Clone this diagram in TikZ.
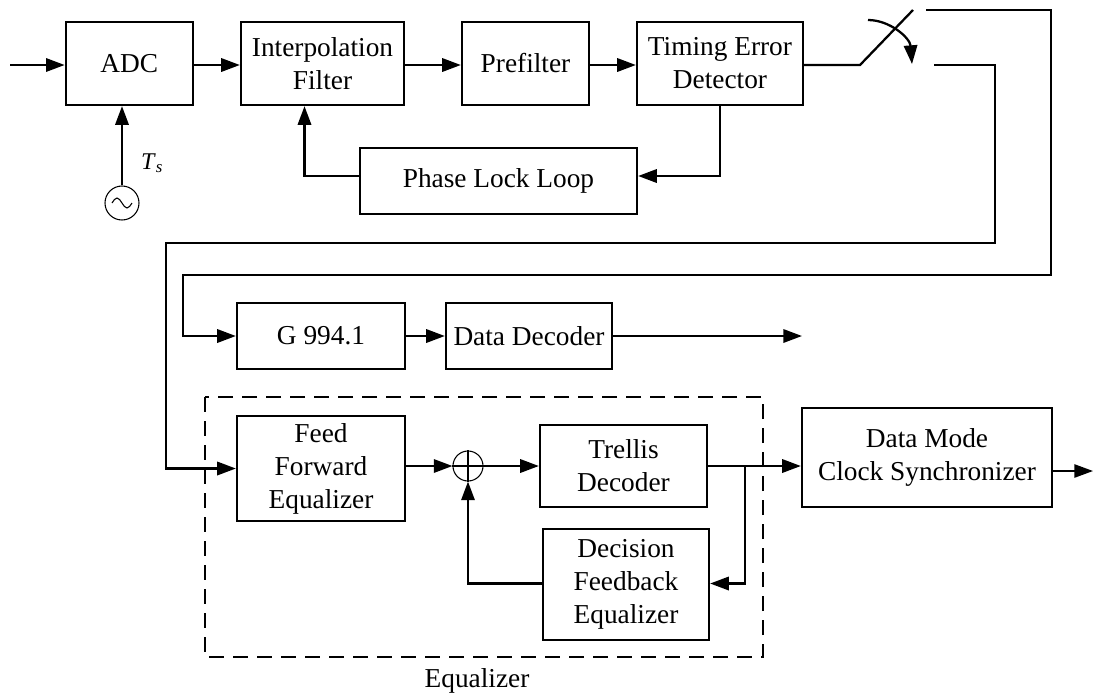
\documentclass[tikz,border=0pt]{standalone}
\usepackage{fontspec}
\setmainfont{Liberation Serif}
\usetikzlibrary{arrows.meta,calc}
\tikzset{
  blk/.style={draw, line width=1.7pt, align=center, inner sep=0pt,
    font=\fontsize{20.5}{24.75}\selectfont},
  wire/.style={line width=1.7pt},
  arr/.style={wire, -{Triangle[length=14pt,width=10pt]}},
  thin circ/.style={draw, circle, line width=0.8pt, inner sep=0pt},
  lbl/.style={font=\fontsize{20.5}{24.75}\selectfont, inner sep=0pt},
}
\begin{document}
\begin{tikzpicture}[x=0.75pt,y=-0.75pt]
\useasboundingbox (0,0) rectangle (1093,694);

% timing recovery chain
\node[blk, minimum width=95.25pt,  minimum height=62.25pt] (adc)    at (129.3,63.5) {ADC};
\node[blk, minimum width=122.25pt, minimum height=62.25pt] (interp) at (322.5,63.5) {Interpolation\\Filter};
\node[blk, minimum width=95.25pt,  minimum height=62.25pt] (pre)    at (525.5,63.5) {Prefilter};
\node[blk, minimum width=124.5pt,  minimum height=62.25pt] (ted)    at (720,63.5)   {Timing Error\\Detector};
\node[blk, minimum width=207.75pt, minimum height=49.5pt]  (pll)    at (498.5,181)  {Phase Lock Loop};

% sampling clock
\node[thin circ, minimum size=25.5pt] (osc) at (122,203) {};
\draw[line width=0.8pt] ($(osc)+(-10,0)$) sin ++(5,-5) cos ++(5,5) sin ++(5,5) cos ++(5,-5);
\node[inner sep=0pt, font=\fontsize{18}{20}\selectfont] (ts) at (152,163) {\textit{T}\textsubscript{\textit{s}}};

% handshake branch
\node[blk, minimum width=126pt,   minimum height=49.5pt] (g994) at (321,336) {G 994.1};
\node[blk, minimum width=124.5pt, minimum height=49.5pt] (dd)   at (529,336) {Data Decoder};

% equalizer
\node[blk, minimum width=126pt,    minimum height=78.75pt] (ffe) at (321,468.5) {Feed\\Forward\\Equalizer};
\node[thin circ, minimum size=22.5pt] (add) at (468,466) {};
\draw[line width=0.8pt] (add.north) -- (add.south) (add.west) -- (add.east);
\node[blk, minimum width=125.25pt, minimum height=61.5pt]  (tcm) at (623.5,466) {Trellis\\Decoder};
\node[blk, minimum width=124.5pt,  minimum height=83.25pt] (dfe) at (626,584.5) {Decision\\Feedback\\Equalizer};
\node[blk, minimum width=187.5pt,  minimum height=74.25pt] (dmcs) at (927,457.5) {Data Mode\\Clock Synchronizer};

\draw[line width=1.4pt, dash pattern=on 11pt off 7pt] (205,397) rectangle (763,657);
\node[lbl] (eqlbl) at (477,681) {Equalizer};

% switch
\coordinate (in)    at (10,65);
\coordinate (sw0)   at (860,65);
\coordinate (sw1)   at (913,10);
\coordinate (bend0) at (868,20);
\coordinate (bend1) at (912,64);
\coordinate (ca)    at (926,10);
\coordinate (ca1)   at (1051,10);
\coordinate (ca2)   at (1051,275);
\coordinate (ca3)   at (183,275);
\coordinate (cb)    at (934,65);
\coordinate (cb1)   at (995,65);
\coordinate (cb2)   at (995,243);
\coordinate (cb3)   at (166,243);
\coordinate (ddout) at (802,336);
\coordinate (tap)   at (745,466);
\coordinate (out)   at (1093,471);

% top row connectors
\draw[arr] (in) -- (in -| adc.west);
\draw[arr] (adc.east |- in) -- (in -| interp.west);
\draw[arr] (interp.east |- in) -- (in -| pre.west);
\draw[arr] (pre.east |- in) -- (in -| ted.west);
\draw[wire] (ted.east |- in) -- (sw0) -- (sw1);
\draw[wire, -{Triangle[length=14pt,width=10pt]}] (bend0) .. controls (890,20) and (910,38) .. (bend1);
\draw[arr] (ted.south) |- ($(pll.east)+(0,-5)$);
\draw[arr] ($(pll.west)+(0,-5)$) -| ($(interp.south)+(-18,0)$);
\draw[arr] (osc.north) -- (osc.north |- adc.south);

% switch outputs
\draw[arr] (ca) -- (ca1) -- (ca2) -- (ca3) |- (g994.west);
\draw[arr] (cb) -- (cb1) -- (cb2) -- (cb3) |- (ffe.west);

\draw[arr] (g994) -- (dd);
\draw[arr] (dd.east) -- (ddout);

% equalizer connectors
\draw[arr] (ffe.east |- add) -- (add.west);
\draw[arr] (add.east) -- (tcm.west);
\draw[arr] (tcm.east) -- (tcm.east -| dmcs.west);
\draw[arr] (tap) |- ($(dfe.east)+(0,-1)$);
\draw[arr] ($(dfe.west)+(0,-1)$) -| (add.south);
\draw[line width=1.2pt, -{Triangle[length=14pt,width=10pt]}] (dmcs.east |- out) -- (out);
\end{tikzpicture}
\end{document}
